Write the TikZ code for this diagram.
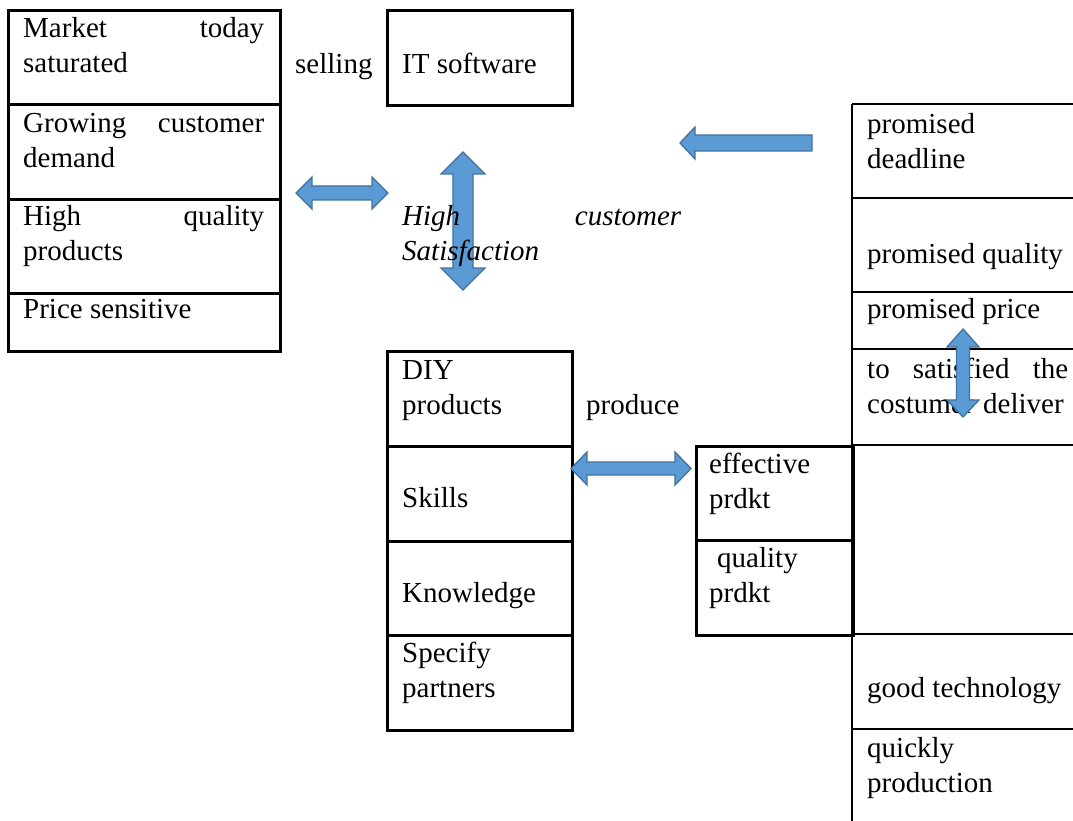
\documentclass[tikz,border=0pt]{standalone}
\usepackage{fontspec}
\setmainfont{Liberation Serif}
\definecolor{arrowfill}{HTML}{5B9BD5}
\definecolor{arrowline}{HTML}{41719C}
\begin{document}
\begin{tikzpicture}[x=1pt,y=-1pt,
  cellbox/.style={draw=black,line width=2.6pt,anchor=north west,inner sep=0pt},
  rule/.style={draw=black,line width=2.6pt},
  txt/.style={anchor=north west,inner sep=0pt,align=left,
    font=\fontsize{29}{35.5}\selectfont},
  blockarrow/.style={fill=arrowfill,draw=arrowline,line width=1.3pt,line join=miter}]
\useasboundingbox (0,0) rectangle (1073,821);

% left column: market situation
\node[cellbox,minimum width=272pt,minimum height=94pt] (L1) at (7,9) {};
\node[cellbox,minimum width=272pt,minimum height=95pt] (L2) at (7,103) {};
\node[cellbox,minimum width=272pt,minimum height=94pt] (L3) at (7,198) {};
\node[cellbox,minimum width=272pt,minimum height=58pt] (L4) at (7,292) {};

% product box at the top
\node[cellbox,minimum width=185pt,minimum height=95pt] (IT) at (386,9) {};

% middle column: what the company brings
\node[cellbox,minimum width=185pt,minimum height=95pt] (M1) at (386,350) {};
\node[cellbox,minimum width=185pt,minimum height=95pt] (M2) at (386,445) {};
\node[cellbox,minimum width=185pt,minimum height=94pt] (M3) at (386,540) {};
\node[cellbox,minimum width=185pt,minimum height=95pt] (M4) at (386,634) {};

% product qualities
\node[cellbox,minimum width=157pt,minimum height=94pt] (E1) at (695,445) {};
\node[cellbox,minimum width=157pt,minimum height=95pt] (E2) at (695,539) {};

% right column, open to the right and below
\coordinate (R0) at (852,104);
\coordinate (R9) at (852,821);
\draw[rule] (R0) -- (R9);
\foreach \yy in {104,198,292,349,445,634,729}
  \draw[rule] (852,\yy) -- (1073,\yy);

% big vertical arrow behind the satisfaction label
\coordinate (VT) at (463,152);
\coordinate (VB) at (463,290);
\filldraw[blockarrow] (VT) -- (485,174) -- (473,174) -- (473,268) -- (485,268)
  -- (VB) -- (441,268) -- (453,268) -- (453,174) -- (441,174) -- cycle;

% texts of the left column
\node[txt,text width=241pt] (tL1) at (23,12.15) {\strut Market\hfill today\\saturated};
\node[txt,text width=241pt] (tL2) at (23,107.15) {\strut Growing\hfill customer\\demand};
\node[txt,text width=241pt] (tL3) at (23,200.15) {\strut High\hfill quality\\products};
\node[txt] (tL4) at (23,293.15) {\strut Price sensitive};

\node[txt] (sell) at (295,48.15) {\strut selling};
\node[txt] (tIT) at (402,48.15) {\strut IT software};

\node[txt,text width=279pt,font=\fontsize{29}{35.5}\selectfont\itshape] (sat)
  at (402,200.15) {\strut High\hfill customer\\Satisfaction};

% texts of the middle column
\node[txt] (tM1) at (402,354.15) {\strut DIY\\products};
\node[txt] (prod) at (586,389.15) {\strut produce};
\node[txt] (tM2) at (402,482.15) {\strut Skills};
\node[txt] (tM3) at (402,577.15) {\strut Knowledge};
\node[txt] (tM4) at (402,637.15) {\strut Specify\\partners};

% texts of the product qualities
\node[txt] (tE1) at (709,448.15) {\strut effective\\prdkt};
\node[txt] (tE2) at (709,542.15) {\strut\hspace{8pt}quality\\prdkt};

% texts of the right column
\node[txt] (tR1) at (867,108.15) {\strut promised\\deadline};
\node[txt] (tR2) at (867,238.15) {\strut promised quality};
\node[txt] (tR3) at (867,293.15) {\strut promised price};
\node[txt,text width=201pt] (tR4) at (867,353.15) {\strut to\hfill satisfied\hfill the\\costumer deliver};
\node[txt] (tR5) at (867,672.15) {\strut good technology};
\node[txt] (tR6) at (867,732.15) {\strut quickly\\production};

% market <-> satisfaction
\coordinate (HL) at (296,193);
\coordinate (HR) at (388,193);
\filldraw[blockarrow] (HL) -- (312,177) -- (312,186) -- (372,186) -- (372,177)
  -- (HR) -- (372,209) -- (372,200) -- (312,200) -- (312,209) -- cycle;

% skills <-> product qualities
\coordinate (PL) at (571,468.5);
\coordinate (PR) at (691,468.5);
\filldraw[blockarrow] (PL) -- (587,452) -- (587,462) -- (675,462) -- (675,452)
  -- (PR) -- (675,485) -- (675,475) -- (587,475) -- (587,485) -- cycle;

% promises feed back towards the customer
\coordinate (ST) at (680,143);
\coordinate (SE) at (812,143);
\filldraw[blockarrow] (ST) -- (695,127) -- (695,135) -- (SE |- 0,135) -- (SE |- 0,151)
  -- (695,151) -- (695,159) -- cycle;

% price <-> delivery
\coordinate (QT) at (963,329);
\coordinate (QB) at (963,417);
\filldraw[blockarrow] (QT) -- (979,347) -- (969.5,347) -- (969.5,400) -- (979,400)
  -- (QB) -- (947,400) -- (956.5,400) -- (956.5,347) -- (947,347) -- cycle;
\end{tikzpicture}
\end{document}
